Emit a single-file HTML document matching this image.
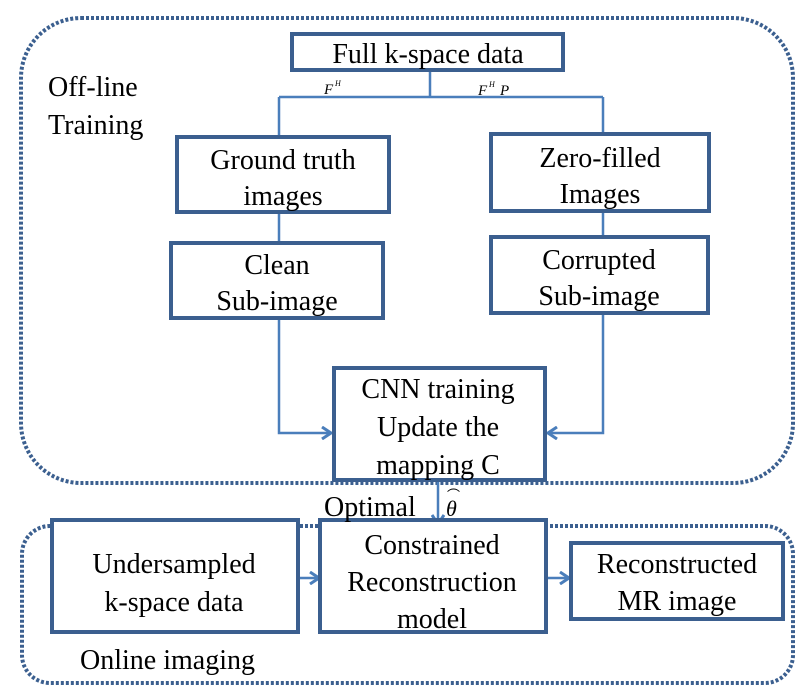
<!DOCTYPE html>
<html><head><meta charset="utf-8"><style>
html,body{margin:0;padding:0;background:#fff;}
svg{display:block;}
text{font-family:"Liberation Serif",serif;font-size:28px;fill:#000;}
</style></head><body>
<svg width="808" height="699" viewBox="0 0 808 699" xmlns="http://www.w3.org/2000/svg">
<defs>
<marker id="a" markerWidth="12" markerHeight="14" refX="10" refY="7" orient="auto" markerUnits="userSpaceOnUse">
<path d="M1,1 L10,7 L1,13" fill="none" stroke="#4a7ebb" stroke-width="3"/>
</marker>
</defs>
<rect x="21" y="18" width="772" height="465" rx="60" fill="none" stroke="#3b5f8f" stroke-width="4" stroke-dasharray="3 2"/>
<rect x="22" y="526" width="771" height="157" rx="28" fill="none" stroke="#3b5f8f" stroke-width="4" stroke-dasharray="3 2"/>
<g stroke="#4a7ebb" stroke-width="2.5" fill="none">
<path d="M430 70 V97 M279 97 H603 M279 97 V137 M603 97 V134"/>
<path d="M279 212 V243 M603 211 V237"/>
<path d="M279 318 V433 H331" marker-end="url(#a)"/>
<path d="M603 313 V433 H548" marker-end="url(#a)"/>
<path d="M438 480 V524" marker-end="url(#a)"/>
<path d="M296 578 H319" marker-end="url(#a)"/>
<path d="M547 578 H569" marker-end="url(#a)"/>
</g>
<g fill="#fff" stroke="#3b5f8f" stroke-width="4">
<rect x="292" y="34" width="271" height="36"/>
<rect x="177" y="137" width="212" height="75"/>
<rect x="491" y="134" width="218" height="77"/>
<rect x="171" y="243" width="212" height="75"/>
<rect x="491" y="237" width="217" height="76"/>
<rect x="334" y="368" width="211" height="112"/>
<rect x="52" y="520" width="246" height="112"/>
<rect x="320" y="520" width="226" height="112"/>
<rect x="571" y="543" width="212" height="76"/>
</g>
<g text-anchor="middle">
<text x="428" y="63">Full k-space data</text>
<text x="283" y="169">Ground truth</text>
<text x="283" y="205">images</text>
<text x="600" y="167">Zero-filled</text>
<text x="600" y="203">Images</text>
<text x="277" y="274">Clean</text>
<text x="277" y="310">Sub-image</text>
<text x="599" y="269">Corrupted</text>
<text x="599" y="305">Sub-image</text>
<text x="438" y="398">CNN training</text>
<text x="438" y="436">Update the</text>
<text x="438" y="474">mapping C</text>
<text x="174" y="573">Undersampled</text>
<text x="174" y="611">k-space data</text>
<text x="432" y="554">Constrained</text>
<text x="432" y="591">Reconstruction</text>
<text x="432" y="628">model</text>
<text x="677" y="573">Reconstructed</text>
<text x="677" y="610">MR image</text>
</g>
<text x="48" y="96">Off-line</text>
<text x="48" y="134">Training</text>
<text x="324" y="516">Optimal</text>
<text x="80" y="669">Online imaging</text>
<text x="446" y="516" style="font-style:italic;font-size:22px">θ</text>
<text x="447" y="500" style="font-size:13px">⌒</text>
<text x="324" y="94" style="font-style:italic;font-size:15px">F</text>
<text x="335" y="86" style="font-style:italic;font-size:8px">H</text>
<text x="478" y="95" style="font-style:italic;font-size:15px">F</text>
<text x="489" y="87" style="font-style:italic;font-size:8px">H</text>
<text x="500" y="95" style="font-style:italic;font-size:15px">P</text>
</svg>
</body></html>
